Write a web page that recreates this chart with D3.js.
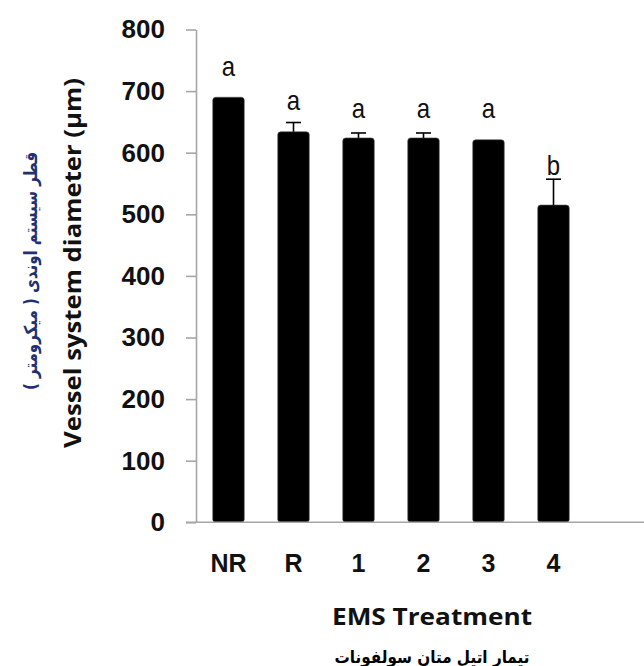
<!DOCTYPE html>
<html>
<head>
<meta charset="utf-8">
<script src="https://cdn.jsdelivr.net/npm/d3@7"></script>
<style>
  html, body { margin: 0; padding: 0; background: #ffffff; }
  svg { display: block; }
</style>
</head>
<body>
<svg id="chart" width="644" height="666"></svg>
<script>
// ---- data ----
const categories = ["NR", "R", "1", "2", "3", "4"];
const values = [690, 634, 624, 624, 621, 515];
const errors = [0, 15, 8, 8, 0, 42];
const letters = ["a", "a", "a", "a", "a", "b"];
const letterValues = [724, 669, 656, 656, 656, 564];
const yTicks = [0, 100, 200, 300, 400, 500, 600, 700, 800];
const yTitle = "Vessel system diameter (µm)";
const yTitleFa = "قطر سیستم اوندی ( میکرومتر )";
const xTitle = "EMS Treatment";
const xTitleFa = "تیمار اتیل متان سولفونات";

// ---- layout ----
const W = 644, H = 666;
const plotLeft = 196, plotTop = 29.5, plotBottom = 522.3;
const bandRight = 586;

const svg = d3.select("#chart");

const x = d3.scaleBand()
  .domain(categories)
  .range([plotLeft, bandRight])
  .paddingInner(0.515)
  .paddingOuter(0.2575);

const y = d3.scaleLinear()
  .domain([0, 800])
  .range([plotBottom, plotTop]);

const axisColor = "#a6a6a6";

// bars
svg.append("g").selectAll("rect")
  .data(categories)
  .join("rect")
  .attr("x", d => x(d))
  .attr("width", x.bandwidth())
  .attr("y", (d, i) => y(values[i]))
  .attr("height", (d, i) => y(0) - y(values[i]))
  .attr("rx", 3)
  .attr("fill", "#000000")
  .attr("stroke", "#555")
  .attr("stroke-width", 0.6);

// error bars (upper)
const eg = svg.append("g").attr("stroke", "#000").attr("stroke-width", 1.6);
categories.forEach((c, i) => {
  if (!errors[i]) return;
  const cx = x(c) + x.bandwidth() / 2;
  eg.append("line")
    .attr("x1", cx).attr("x2", cx)
    .attr("y1", y(values[i])).attr("y2", y(values[i] + errors[i]));
  eg.append("line")
    .attr("x1", cx - 7.5).attr("x2", cx + 7.5)
    .attr("y1", y(values[i] + errors[i])).attr("y2", y(values[i] + errors[i]));
});

// significance letters
svg.append("g").selectAll("text")
  .data(categories)
  .join("text")
  .attr("transform", (d, i) => `translate(${x(d) + x.bandwidth() / 2},${y(letterValues[i])}) scale(1,1.12)`)
  .attr("text-anchor", "middle")
  .attr("font-family", "'Liberation Sans', Arial, sans-serif")
  .attr("font-size", 24)
  .attr("fill", "#111")
  .text((d, i) => letters[i]);

// y axis
const yAxis = d3.axisLeft(y)
  .tickValues(yTicks)
  .tickSize(10)
  .tickSizeOuter(0)
  .tickPadding(21)
  .tickFormat(d3.format("d"));
const yg = svg.append("g")
  .attr("transform", `translate(${plotLeft},0)`)
  .call(yAxis);
yg.select(".domain").attr("stroke", axisColor).attr("stroke-width", 1.6);
yg.selectAll(".tick line").attr("stroke", axisColor).attr("stroke-width", 1.6);
yg.selectAll(".tick text")
  .attr("font-family", "'Liberation Sans', Arial, sans-serif")
  .attr("font-weight", "bold")
  .attr("font-size", 26)
  .attr("fill", "#111");

// x axis baseline (extends to the right edge)
svg.append("line")
  .attr("x1", plotLeft - 10).attr("x2", W)
  .attr("y1", y(0)).attr("y2", y(0))
  .attr("stroke", axisColor).attr("stroke-width", 1.6);

// category labels
svg.append("g").selectAll("text")
  .data(categories)
  .join("text")
  .attr("x", d => x(d) + x.bandwidth() / 2)
  .attr("y", 572)
  .attr("text-anchor", "middle")
  .attr("font-family", "'Liberation Sans', Arial, sans-serif")
  .attr("font-weight", "bold")
  .attr("font-size", 25)
  .attr("fill", "#111")
  .text(d => d);

// x titles
svg.append("text")
  .attr("x", 432).attr("y", 625)
  .attr("text-anchor", "middle")
  .attr("font-family", "'Open Sans', 'Liberation Sans', sans-serif")
  .attr("font-weight", "bold")
  .attr("font-size", 24)
  .attr("textLength", 200)
  .attr("lengthAdjust", "spacingAndGlyphs")
  .attr("fill", "#111")
  .text(xTitle);

svg.append("text")
  .attr("x", 432).attr("y", 663)
  .attr("text-anchor", "middle")
  .attr("font-family", "'DejaVu Sans', sans-serif")
  .attr("font-weight", "bold")
  .attr("font-size", 17)
  .attr("textLength", 195)
  .attr("lengthAdjust", "spacingAndGlyphs")
  .attr("fill", "#000")
  .attr("direction", "rtl")
  .text(xTitleFa);

// y titles
svg.append("text")
  .attr("transform", "translate(81,263) rotate(-90)")
  .attr("text-anchor", "middle")
  .attr("font-family", "'Open Sans', 'Liberation Sans', sans-serif")
  .attr("font-weight", "bold")
  .attr("font-size", 24)
  .attr("textLength", 370)
  .attr("lengthAdjust", "spacingAndGlyphs")
  .attr("fill", "#111")
  .text(yTitle);

svg.append("text")
  .attr("transform", "translate(37,271) rotate(-90)")
  .attr("text-anchor", "middle")
  .attr("font-family", "'DejaVu Sans', sans-serif")
  .attr("font-weight", "bold")
  .attr("font-size", 18)
  .attr("textLength", 238)
  .attr("lengthAdjust", "spacingAndGlyphs")
  .attr("fill", "#1f3170")
  .attr("direction", "rtl")
  .text(yTitleFa);
</script>
</body>
</html>
